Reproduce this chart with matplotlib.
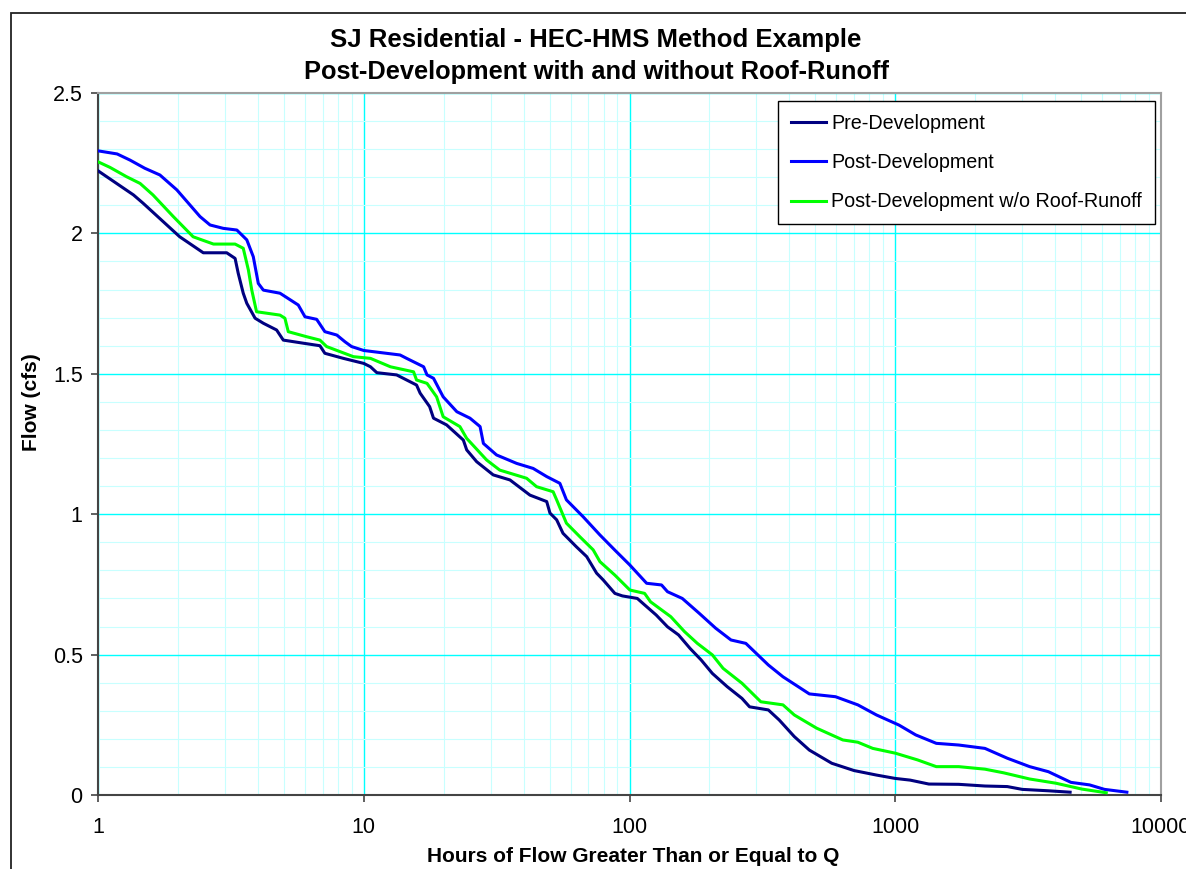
import matplotlib
matplotlib.use("Agg")
import matplotlib.pyplot as plt
from matplotlib.patches import Rectangle
from matplotlib.ticker import FixedLocator, FuncFormatter, LogLocator, MultipleLocator

plt.rcParams['font.family'] = ['Liberation Sans', 'DejaVu Sans']

# flow duration data (hours >= Q, flow in cfs)
pre_hours = [1, 1.36, 1.48, 2.03, 2.49, 3.05, 3.28, 3.37, 3.52, 3.63,
             3.90, 4.19, 4.70, 4.98, 5.92, 6.84, 7.14, 8.38, 10.0, 10.6,
             11.2, 13.3, 15.8, 16.3, 17.7, 18.3, 20.5, 23.7, 24.4, 26.6,
             30.7, 35.5, 42.2, 48.8, 50.2, 53.2, 56.2, 63.1, 69.0, 75.2,
             79.6, 88.1, 94.0, 107, 114, 126, 139, 153, 169, 186,
             205, 233, 265, 283, 333, 366, 417, 475, 577, 700,
             850, 1000, 1138, 1338, 1733, 2175, 2640, 3007, 3769, 4550]
pre_flow = [2.223, 2.137, 2.107, 1.988, 1.931, 1.931, 1.911, 1.858, 1.787, 1.751,
            1.698, 1.680, 1.656, 1.620, 1.609, 1.600, 1.573, 1.555, 1.537, 1.525,
            1.504, 1.496, 1.460, 1.431, 1.383, 1.342, 1.318, 1.264, 1.229, 1.187,
            1.140, 1.122, 1.068, 1.045, 1.004, 0.980, 0.932, 0.884, 0.849, 0.790,
            0.766, 0.718, 0.709, 0.700, 0.677, 0.641, 0.599, 0.570, 0.522, 0.481,
            0.433, 0.386, 0.344, 0.314, 0.303, 0.267, 0.208, 0.160, 0.113, 0.087,
            0.071, 0.059, 0.053, 0.039, 0.038, 0.032, 0.030, 0.020, 0.015, 0.010]

post_hours = [1, 1.18, 1.32, 1.50, 1.71, 1.98, 2.42, 2.64, 2.96, 3.33,
              3.63, 3.84, 4.01, 4.19, 4.84, 5.67, 6.01, 6.65, 7.14, 7.92,
              8.50, 9.0, 10.0, 13.7, 14.5, 16.8, 17.3, 18.3, 19.9, 22.4,
              25.1, 27.4, 28.2, 31.6, 37.6, 43.4, 48.8, 54.7, 57.9, 66.9,
              77.4, 88.1, 100.3, 116, 132, 139, 158, 183, 211, 241,
              274, 333, 378, 431, 475, 596, 723, 850, 1033, 1194,
              1427, 1733, 2175, 2640, 3205, 3769, 4582, 5383, 6130, 7440]
post_flow = [2.294, 2.283, 2.261, 2.232, 2.208, 2.155, 2.060, 2.030, 2.018, 2.012,
             1.977, 1.917, 1.822, 1.798, 1.787, 1.745, 1.703, 1.694, 1.650, 1.638,
             1.614, 1.597, 1.583, 1.567, 1.555, 1.525, 1.496, 1.484, 1.418, 1.365,
             1.342, 1.312, 1.252, 1.211, 1.181, 1.163, 1.134, 1.110, 1.051, 0.991,
             0.926, 0.872, 0.819, 0.754, 0.748, 0.724, 0.700, 0.647, 0.594, 0.552,
             0.540, 0.463, 0.421, 0.386, 0.360, 0.350, 0.321, 0.285, 0.249, 0.214,
             0.184, 0.178, 0.166, 0.131, 0.101, 0.083, 0.045, 0.036, 0.020, 0.010]

noroof_hours = [1, 1.11, 1.28, 1.44, 1.61, 1.92, 2.28, 2.72, 3.28, 3.52,
                3.68, 3.79, 3.95, 4.84, 5.05, 5.20, 6.10, 6.84, 7.25, 8.14,
                9.14, 10.6, 12.6, 15.4, 15.8, 17.3, 18.8, 19.9, 23.0, 24.4,
                29.0, 32.5, 41.0, 44.7, 51.6, 53.2, 57.9, 65.0, 73.0, 77.4,
                88.1, 100.3, 114, 120, 143, 161, 180, 205, 225, 265,
                312, 378, 417, 506, 635, 723, 823, 1000, 1213, 1427,
                1733, 2175, 2557, 3205, 4022, 5043, 6223]
noroof_flow = [2.255, 2.235, 2.202, 2.178, 2.137, 2.060, 1.988, 1.962, 1.962, 1.947,
               1.870, 1.798, 1.721, 1.709, 1.698, 1.650, 1.632, 1.620, 1.597, 1.579,
               1.561, 1.555, 1.525, 1.507, 1.478, 1.466, 1.418, 1.347, 1.312, 1.270,
               1.193, 1.157, 1.128, 1.098, 1.080, 1.051, 0.968, 0.920, 0.873, 0.831,
               0.783, 0.730, 0.718, 0.688, 0.635, 0.582, 0.540, 0.499, 0.451, 0.398,
               0.332, 0.321, 0.285, 0.238, 0.196, 0.188, 0.166, 0.149, 0.125, 0.101,
               0.101, 0.092, 0.079, 0.057, 0.042, 0.021, 0.008]

labels = ['Pre-Development', 'Post-Development', 'Post-Development w/o Roof-Runoff']
colors = ['#000080', '#0000FF', '#00FF00']

W, H = 1186, 869
fig = plt.figure(figsize=(W / 100, H / 100), dpi=100)
ax = fig.add_axes([98 / W, 1 - 795 / H, (1161 - 98) / W, (795 - 93) / H])

# outer chart border (cut off on right/bottom like the source image)
fig.add_artist(Rectangle((11 / W, -0.1), 1.2, 1.1 - 13 / H, transform=fig.transFigure,
                         fill=False, edgecolor='#222222', linewidth=1.3))

series = [(pre_hours, pre_flow), (post_hours, post_flow), (noroof_hours, noroof_flow)]
for (h, q), lab, col in zip(series, labels, colors):
    ax.plot(h, q, color=col, linewidth=2.2, label=lab, zorder=3,
            solid_joinstyle='round')

ax.set_xscale('log')
ax.set_xlim(1, 10000)
ax.set_ylim(0, 2.5)

ax.xaxis.set_major_locator(FixedLocator([1, 10, 100, 1000, 10000]))
ax.xaxis.set_minor_locator(LogLocator(base=10, subs=range(2, 10), numticks=20))
ax.xaxis.set_major_formatter(FuncFormatter(lambda v, p: '%d' % round(v)))
ax.yaxis.set_major_locator(MultipleLocator(0.5))
ax.yaxis.set_minor_locator(MultipleLocator(0.1))
ax.yaxis.set_major_formatter(FuncFormatter(lambda v, p: '%g' % round(v, 2)))

ax.grid(which='minor', color='#C8FFFF', linewidth=0.8, zorder=0)
ax.grid(which='major', color='#00FFFF', linewidth=1.0, zorder=1)
ax.set_axisbelow(True)

ax.tick_params(which='major', direction='out', length=5, width=1.2, color='#444444',
               labelsize=15.5, pad=6)
ax.tick_params(axis='x', which='major', pad=11)
ax.tick_params(which='minor', length=0)
for side in ['left', 'bottom']:
    ax.spines[side].set_color('#444444')
    ax.spines[side].set_linewidth(1.5)
for side in ['top', 'right']:
    ax.spines[side].set_color('#A0A0A0')
    ax.spines[side].set_linewidth(1.5)

ax.set_xlabel('Hours of Flow Greater Than or Equal to Q', fontsize=15,
              fontweight='bold', va='center')
ax.xaxis.set_label_coords(0.503, (795 - 857) / 702)
ax.set_ylabel('Flow (cfs)', fontsize=15, fontweight='bold', va='center')
ax.yaxis.set_label_coords((32 - 98) / 1063, (795 - 402) / 702)

fig.text(596 / W, 1 - 40 / H, 'SJ Residential - HEC-HMS Method Example',
         ha='center', va='center', fontsize=18.5, fontweight='bold')
fig.text(596 / W, 1 - 72 / H, 'Post-Development with and without Roof-Runoff',
         ha='center', va='center', fontsize=18.3, fontweight='bold')

leg = ax.legend(loc='upper right', bbox_to_anchor=(1155 / W, 1 - 101 / H),
                bbox_transform=fig.transFigure, fontsize=14.2, fancybox=False,
                framealpha=1, edgecolor='black', borderpad=0.65, labelspacing=1.03,
                handlelength=1.75, handletextpad=0.3, borderaxespad=0)
leg.get_frame().set_linewidth(1.0)

fig.savefig('out.png', dpi=100, facecolor='white')
